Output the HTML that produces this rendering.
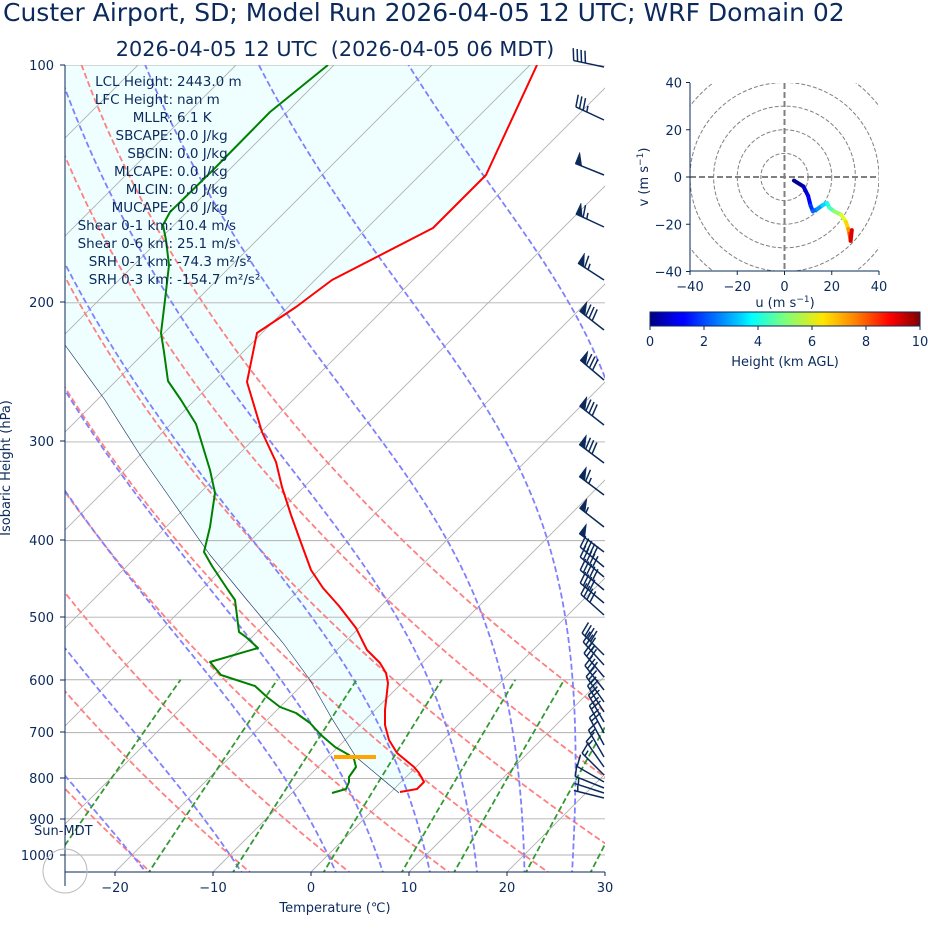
<!DOCTYPE html>
<html><head><meta charset="utf-8">
<style>
html,body{margin:0;padding:0;background:#fff;}
svg{display:block;font-family:"DejaVu Sans","Liberation Sans",sans-serif;}
</style></head>
<body>
<svg id="s" width="928" height="936" viewBox="0 0 928 936" xmlns="http://www.w3.org/2000/svg">
<defs>
<clipPath id="cp"><rect x="65" y="65" width="540" height="807"/></clipPath>
<clipPath id="hc"><rect x="690" y="83" width="189" height="188"/></clipPath>
<linearGradient id="jet" x1="0" x2="1" y1="0" y2="0">
<stop offset="0" stop-color="#000080"/><stop offset="0.11" stop-color="#0000ff"/>
<stop offset="0.125" stop-color="#0000ff"/><stop offset="0.34" stop-color="#00d4ff"/>
<stop offset="0.375" stop-color="#0ff"/><stop offset="0.5" stop-color="#7dff7a"/>
<stop offset="0.64" stop-color="#ffe600"/><stop offset="0.75" stop-color="#ff8c00"/>
<stop offset="0.89" stop-color="#ff0000"/><stop offset="1" stop-color="#800000"/>
</linearGradient>
</defs>
<g id="bg" clip-path="url(#cp)"></g>
<g id="fg" clip-path="url(#cp)"></g>
<g id="barbs"></g>
<g id="hodo"></g>
<g fill="#0b2a5b">
<text x="3" y="21" font-size="25">Custer Airport, SD; Model Run 2026-04-05 12 UTC; WRF Domain 02</text>
<text x="335" y="56" font-size="20.8" text-anchor="middle" xml:space="preserve">2026-04-05 12 UTC&#160; (2026-04-05 06 MDT)</text>
<g font-size="13" text-anchor="end">
<text x="54" y="70">100</text><text x="54" y="307">200</text><text x="54" y="446">300</text>
<text x="54" y="545">400</text><text x="54" y="622">500</text><text x="54" y="685">600</text>
<text x="54" y="737">700</text><text x="54" y="783">800</text><text x="54" y="824">900</text>
<text x="54" y="860">1000</text>
</g>
<g font-size="13" text-anchor="middle">
<text x="115" y="892">−20</text><text x="213" y="892">−10</text><text x="311" y="892">0</text>
<text x="409" y="892">10</text><text x="507" y="892">20</text><text x="605" y="892">30</text>
</g>
<text x="335" y="912" font-size="13" text-anchor="middle">Temperature (℃)</text>
<text transform="translate(10,468) rotate(-90)" font-size="13" text-anchor="middle">Isobaric Height (hPa)</text>
<text x="34" y="835" font-size="13">Sun-MDT</text>
<g font-size="13.5" id="info"></g>
</g>
<g stroke="#0b2a5b" stroke-width="1">
<line x1="65" y1="65" x2="65" y2="886"/>
<line x1="65" y1="872" x2="605" y2="872"/>
<line x1="60" y1="65" x2="65" y2="65"/><line x1="60" y1="302" x2="65" y2="302"/>
<line x1="60" y1="441" x2="65" y2="441"/><line x1="60" y1="540" x2="65" y2="540"/>
<line x1="60" y1="617" x2="65" y2="617"/><line x1="60" y1="680" x2="65" y2="680"/>
<line x1="60" y1="732" x2="65" y2="732"/><line x1="60" y1="778" x2="65" y2="778"/>
<line x1="60" y1="819" x2="65" y2="819"/><line x1="60" y1="855" x2="65" y2="855"/>
<line x1="115" y1="872" x2="115" y2="876"/><line x1="213" y1="872" x2="213" y2="876"/>
<line x1="311" y1="872" x2="311" y2="876"/><line x1="409" y1="872" x2="409" y2="876"/>
<line x1="507" y1="872" x2="507" y2="876"/><line x1="605" y1="872" x2="605" y2="876"/>
</g>
<circle cx="65" cy="871" r="22" fill="none" stroke="#bbb" stroke-width="1"/>
</svg>
<script>
(function(){
var NS="http://www.w3.org/2000/svg";
function el(parent,tag,attrs){var e=document.createElementNS(NS,tag);for(var k in attrs)e.setAttribute(k,attrs[k]);parent.appendChild(e);return e;}
var bg=document.getElementById('bg'),fg=document.getElementById('fg');
function Y(p){return 65+790*Math.log10(p/100);}
function X(T,y){return 311+9.8*T+(872-y);}
function pathOf(pts){return pts.map(function(q,i){return (i?'L':'M')+q[0].toFixed(1)+' '+q[1].toFixed(1);}).join('');}
var DW=1.8,DA='6,3';
[100,200,300,400,500,600,700,800,900,1000].forEach(function(p){var y=Y(p);el(bg,'line',{x1:65,x2:605,y1:y,y2:y,stroke:'#b0b0b0','stroke-width':0.9});});
for(var T=-130;T<=40;T+=10){el(bg,'line',{x1:X(T,872),y1:872,x2:X(T,65),y2:65,stroke:'#b0b0b0','stroke-width':0.9});}
for(var t0=-50;t0<=50;t0+=10){var th=t0+273.15,pts=[];for(var p=1060;p>=95;p-=10){var TT=th*Math.pow(p/1000,0.2857)-273.15;var y=Y(p);pts.push([X(TT,y),y]);}
el(bg,'path',{d:pathOf(pts),fill:'none',stroke:'#ff8080','stroke-width':DW,'stroke-dasharray':DA});}
function es(T){return 6.112*Math.exp(17.67*T/(T+243.5));}
function dTdp(p,Tk){var Rd=287.04,Cp=1005.7,Lv=2.501e6,eps=0.622;var T=Tk-273.15;var e=es(T);var rs=eps*e/(p-e);
return (Rd*Tk+Lv*rs)/(Cp+Lv*Lv*rs*eps/(Rd*Tk*Tk))/p;}
function moist(t0){var Tk=t0+273.15,p=1000,dp=-2;var up=[];
while(p>=95){up.push([p,Tk]);var k1=dTdp(p,Tk);var k2=dTdp(p+dp/2,Tk+k1*dp/2);Tk+=k2*dp;p+=dp;}
Tk=t0+273.15;p=1000;var dn=[];dp=2;while(p<=1062){var k1=dTdp(p,Tk);var k2=dTdp(p+dp/2,Tk+k1*dp/2);Tk+=k2*dp;p+=dp;dn.push([p,Tk]);}
return dn.reverse().concat(up);}
var mt=[-50,-40,-30,-20,-10,0,5,10,15,20,25,30,35,40,45];
mt.forEach(function(t0){var pts=moist(t0).map(function(q){var y=Y(q[0]);return [X(q[1]-273.15,y),y];});
el(bg,'path',{d:pathOf(pts),fill:'none',stroke:'#8080ff','stroke-width':DW,'stroke-dasharray':DA});});
[0.0004,0.001,0.002,0.004,0.007,0.01,0.016,0.024,0.032].forEach(function(w){var pts=[];for(var p=1060;p>=600;p-=10){var e=p*w/(0.622+w);var l=Math.log(e/6.112);var Td=243.5*l/(17.67-l);var y=Y(p);pts.push([X(Td,y),y]);}
el(bg,'path',{d:pathOf(pts),fill:'none',stroke:'#339933','stroke-width':DW,'stroke-dasharray':DA});});
var red=[[400,792],[417,789],[424,782],[419,773],[414,767],[397,753],[389,740],[385,725],[385,710],[388,683],[386,673],[380,663],[367,650],[356,628],[339,606],[323,588],[311,570],[300,540],[291,515],[282,487],[276,462],[262,432],[247,382],[257,333],[296,307],[332,280],[433,228],[486,175],[537,65]];
var grn=[[332,793],[346,789],[349,782],[349,777],[356,767],[354,759],[349,755],[335,747],[321,735],[310,723],[296,713],[280,707],[267,697],[255,686],[221,675],[210,662],[258,648],[246,637],[239,632],[235,600],[228,590],[220,578],[212,566],[204,552],[210,527],[215,493],[210,470],[203,447],[196,424],[181,400],[168,381],[164,352],[161,333],[165,300],[169,265],[166,240],[163,225],[170,212],[213,170],[270,112],[328,65]];
var par=[[399,793],[356,757],[331,717],[310,680],[283,643],[247,600],[210,555],[175,505],[140,455],[105,400],[65,345]];
var poly=par.concat([[65,65]]).concat(red.slice().reverse());
var sh=el(fg,'path',{d:pathOf(poly)+'Z',fill:'#efffff',stroke:'none'});
bg.insertBefore(sh,bg.firstChild);
el(fg,'path',{d:pathOf(par),fill:'none',stroke:'#0b2a5b','stroke-width':0.6});
el(fg,'path',{d:pathOf(red),fill:'none',stroke:'#ff0000','stroke-width':2,'stroke-linejoin':'round'});
el(fg,'path',{d:pathOf(grn),fill:'none',stroke:'#008000','stroke-width':2,'stroke-linejoin':'round'});
el(fg,'line',{x1:334,x2:376,y1:757,y2:757,stroke:'#ffa500','stroke-width':4});
var info=document.getElementById('info');
var L=[["LCL Height:","2443.0 m"],["LFC Height:","nan m"],["MLLR:","6.1 K"],["SBCAPE:","0.0 J/kg"],["SBCIN:","0.0 J/kg"],["MLCAPE:","0.0 J/kg"],["MLCIN:","0.0 J/kg"],["MUCAPE:","0.0 J/kg"],["Shear 0-1 km:","10.4 m/s"],["Shear 0-6 km:","25.1 m/s"],["SRH 0-1 km:","-74.3 m²/s²"],["SRH 0-3 km:","-154.7 m²/s²"]];
L.forEach(function(r,i){var y=86+18*i;var a=el(info,'text',{x:173,y:y,'text-anchor':'end'});a.textContent=r[0];var b=el(info,'text',{x:177,y:y});b.textContent=r[1];});
var bb=document.getElementById('barbs');var C='#0b2a5b';
function barb(yb,ang,fl,fu,ha,xb){xb=xb||604;var a=ang*Math.PI/180;var ux=-Math.cos(a),uy=-Math.sin(a);var Ls=31;
var tx=xb+ux*Ls,ty=yb+uy*Ls;el(bb,'line',{x1:xb,y1:yb,x2:tx,y2:ty,stroke:C,'stroke-width':1.5});
var px=uy,py=-ux;if(py>0){px=-px;py=-py;}
var d=0;
for(var i=0;i<fl;i++){var x0=tx-ux*d,y0=ty-uy*d;var x1=tx-ux*(d+7),y1=ty-uy*(d+7);
el(bb,'polygon',{points:x0+','+y0+' '+(x0+px*12)+','+(y0+py*12)+' '+x1+','+y1,fill:C,stroke:C,'stroke-width':0.5});d+=8;}
for(var j=0;j<fu;j++){var x0=tx-ux*d,y0=ty-uy*d;el(bb,'line',{x1:x0,y1:y0,x2:x0+px*12+ux*3,y2:y0+py*12+uy*3,stroke:C,'stroke-width':1.5});d+=4;}
for(var k=0;k<ha;k++){if(d===0)d=4;var x0=tx-ux*d,y0=ty-uy*d;el(bb,'line',{x1:x0,y1:y0,x2:x0+px*6+ux*1.5,y2:y0+py*6+uy*1.5,stroke:C,'stroke-width':1.5});}
}
var B=[[67,12,0,4,0],[120,25,0,3,1],[175,22,1,0,0],[227,25,1,1,1],[280,33,1,1,1],[330,38,1,3,0],[380,40,1,3,0],[425,38,1,3,0],[463,37,1,3,0],[495,37,1,1,1],[527,38,1,0,1],[552,37,1,0,0],
[567,40,0,5,0],[577,40,0,5,0],[590,40,0,5,0],[603,40,0,4,0],[615,42,0,4,0],[655,45,0,4,0],[665,48,0,3,1],[677,50,0,3,0],[690,52,0,3,0],[702,55,0,2,1],[712,58,0,2,1],[722,60,0,2,0],[733,62,0,2,0],[745,62,0,2,0],[757,60,0,1,1],[767,55,0,1,1],[775,45,0,1,1],[782,30,0,1,0],[788,22,0,1,0],[793,18,0,0,1],[798,14,0,0,1]];
B.forEach(function(b){barb(b[0],b[1],b[2],b[3],b[4]);});
var h=document.getElementById('hodo');var cx=784.5,cy=177,sc=94.5/40;
var hc=el(h,'g',{'clip-path':'url(#hc)'});
[10,20,30,40,50].forEach(function(r){el(hc,'circle',{cx:cx,cy:cy,r:r*sc,fill:'none',stroke:'#808080','stroke-width':1,'stroke-dasharray':'4,2'});});
el(hc,'line',{x1:690,x2:879,y1:cy,y2:cy,stroke:'#808080','stroke-width':2,'stroke-dasharray':'6,3'});
el(hc,'line',{x1:cx,x2:cx,y1:83,y2:271,stroke:'#808080','stroke-width':2,'stroke-dasharray':'6,3'});
function jet(v){function c(x){return Math.max(0,Math.min(1,x));}var r=c(1.5-Math.abs(4*v-3)),g=c(1.5-Math.abs(4*v-2)),b=c(1.5-Math.abs(4*v-1));return 'rgb('+Math.round(r*255)+','+Math.round(g*255)+','+Math.round(b*255)+')';}
var hp=[[4,-1.5,0],[8,-4,0.04],[10,-8,0.1],[11,-12,0.15],[12,-14.5,0.2],[14,-13.5,0.25],[16,-12,0.3],[18,-11,0.37],[19,-13,0.42],[21,-14.5,0.48],[24,-16,0.55],[26,-19,0.63],[27,-22,0.7],[27.5,-24,0.75],[28,-27,0.85],[28.5,-22.5,0.97]];
for(var i=0;i<hp.length-1;i++){var a=hp[i],b=hp[i+1];el(h,'line',{x1:cx+a[0]*sc,y1:cy-a[1]*sc,x2:cx+b[0]*sc,y2:cy-b[1]*sc,stroke:jet((a[2]+b[2])/2),'stroke-width':4,'stroke-linecap':'round'});}
var ax=el(h,'g',{stroke:'#0b2a5b','stroke-width':1});
el(ax,'line',{x1:690,x2:690,y1:83,y2:271});el(ax,'line',{x1:690,x2:879,y1:271,y2:271});
[-40,-20,0,20,40].forEach(function(v){var x=cx+v*sc;el(ax,'line',{x1:x,x2:x,y1:271,y2:275});var y=cy-v*sc;el(ax,'line',{x1:686,x2:690,y1:y,y2:y});
var t=el(h,'text',{x:x,y:291,'text-anchor':'middle','font-size':13,fill:'#0b2a5b'});t.textContent=(v<0?'−':'')+Math.abs(v);
var t2=el(h,'text',{x:682,y:y+5,'text-anchor':'end','font-size':13,fill:'#0b2a5b'});t2.textContent=(v<0?'−':'')+Math.abs(v);});
var ul=el(h,'text',{x:785,y:307,'text-anchor':'middle','font-size':13,fill:'#0b2a5b'});ul.innerHTML='u (m s<tspan dy="-5" font-size="9">−1</tspan><tspan dy="5">)</tspan>';
var vl=el(h,'text',{transform:'translate(648,177) rotate(-90)','text-anchor':'middle','font-size':13,fill:'#0b2a5b'});vl.innerHTML='v (m s<tspan dy="-5" font-size="9">−1</tspan><tspan dy="5">)</tspan>';
el(h,'rect',{x:650,y:312,width:270,height:14,fill:'url(#jet)',stroke:'#0b2a5b','stroke-width':1});
[0,2,4,6,8,10].forEach(function(v){var x=650+v*27;el(h,'line',{x1:x,x2:x,y1:326,y2:330,stroke:'#0b2a5b'});var t=el(h,'text',{x:x,y:346,'text-anchor':'middle','font-size':13,fill:'#0b2a5b'});t.textContent=v;});
var hl=el(h,'text',{x:785,y:366,'text-anchor':'middle','font-size':13,fill:'#0b2a5b'});hl.textContent='Height (km AGL)';
})();
</script>
</body></html>
